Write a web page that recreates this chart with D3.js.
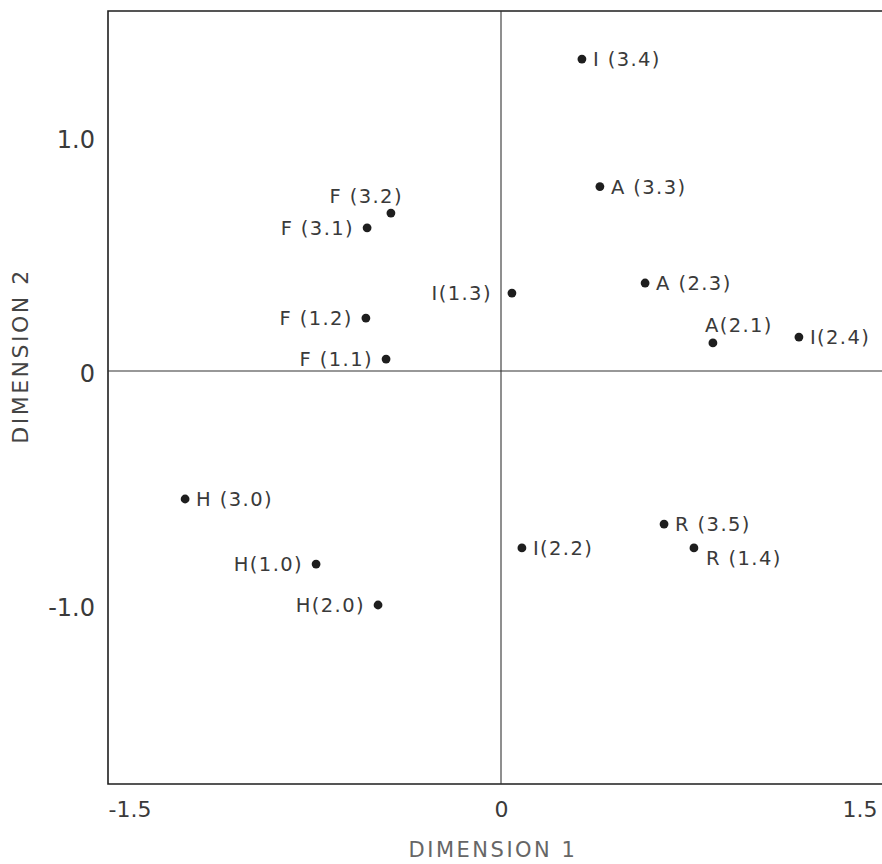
<!DOCTYPE html>
<html>
<head>
<meta charset="utf-8">
<script src="https://cdn.jsdelivr.net/npm/d3@7"></script>
<style>
  html, body { margin: 0; padding: 0; background: #fff; }
  svg { display: block; }
  text { font-family: "DejaVu Sans", "Liberation Sans", sans-serif; font-weight: 400; }
</style>
</head>
<body>
<svg id="chart" width="882" height="864"></svg>
<script>
// ---- data ----
const labels = ["I (3.4)", "A (3.3)", "F (3.2)", "F (3.1)", "I(1.3)", "A (2.3)", "F (1.2)", "F (1.1)",
                "A(2.1)", "I(2.4)", "H (3.0)", "H(1.0)", "H(2.0)", "I(2.2)", "R (3.5)", "R (1.4)"];
const dim1 = [0.333, 0.407, -0.453, -0.551, 0.045, 0.593, -0.556, -0.473,
              0.872, 1.226, -1.300, -0.761, -0.506, 0.086, 0.671, 0.794];
const dim2 = [1.333, 0.788, 0.675, 0.612, 0.333, 0.376, 0.226, 0.051,
              0.120, 0.145, -0.547, -0.825, -1.000, -0.756, -0.654, -0.756];
// where each label sits relative to its point
const labelSide = ["right", "right", "aboveLeft", "left", "leftFar", "right", "left", "left",
                   "above", "right", "right", "left", "left", "right", "right", "belowRight"];
const xTicks = [-1.5, 0, 1.5];
const yTicks = [1.0, 0, -1.0];
const xTickText = ["-1.5", "0", "1.5"];
const yTickText = ["1.0", "0", "-1.0"];
const xTitle = "DIMENSION 1";
const yTitle = "DIMENSION 2";

// ---- layout ----
const svg = d3.select("#chart");
const frame = { left: 108, top: 11, bottom: 784, right: 882 };
const x = d3.scaleLinear().domain([-1.5, 1.5]).range([501 - 1.5 * 243, 501 + 1.5 * 243]);
const y = d3.scaleLinear().domain([-1, 1]).range([371 + 234, 371 - 234]);
const ink = "#1e1e1e";

// frame (right side runs off the page)
svg.append("path")
  .attr("d", `M${frame.right + 20},${frame.top} H${frame.left} V${frame.bottom} H${frame.right + 20}`)
  .attr("fill", "none").attr("stroke", ink).attr("stroke-width", 1.6);

// zero lines
svg.append("line")
  .attr("x1", x(0)).attr("x2", x(0)).attr("y1", frame.top).attr("y2", frame.bottom)
  .attr("stroke", "#333").attr("stroke-width", 1.1);
svg.append("line")
  .attr("x1", frame.left).attr("x2", frame.right).attr("y1", y(0)).attr("y2", y(0))
  .attr("stroke", "#333").attr("stroke-width", 1.1);

// axes (labels only)
const xAxis = d3.axisBottom(x).tickValues(xTicks).tickSize(0)
  .tickFormat((d, i) => xTickText[i]);
const gx = svg.append("g").attr("transform", `translate(0,${frame.bottom + 14})`).call(xAxis);
gx.select(".domain").remove();
gx.selectAll("text").attr("font-size", 22).attr("fill", "#3a3a3a")
  .attr("font-family", "DejaVu Sans, sans-serif").attr("font-weight", 300)
  .attr("dx", (d) => d < 0 ? -7 : (d > 0 ? -6 : 0));

const yAxis = d3.axisLeft(y).tickValues(yTicks).tickSize(0)
  .tickFormat((d, i) => yTickText[i]);
const gy = svg.append("g").attr("transform", `translate(${frame.left - 10},3)`).call(yAxis);
gy.select(".domain").remove();
gy.selectAll("text").attr("font-size", 24).attr("fill", "#3a3a3a")
  .attr("font-family", "DejaVu Sans, sans-serif").attr("font-weight", 300);

// axis titles
svg.append("text")
  .attr("x", 493).attr("y", 857)
  .attr("text-anchor", "middle").attr("font-size", 21).attr("letter-spacing", 2.5)
  .attr("font-weight", 300).attr("fill", "#666").text(xTitle);
svg.append("text")
  .attr("transform", `translate(28,356) rotate(-90)`)
  .attr("text-anchor", "middle").attr("font-size", 22).attr("letter-spacing", 2.5)
  .attr("font-weight", 300).attr("fill", "#444").text(yTitle);

// points
const pts = labels.map((l, i) => ({ label: l, d1: dim1[i], d2: dim2[i], side: labelSide[i] }));
svg.append("g").selectAll("circle").data(pts).join("circle")
  .attr("cx", d => x(d.d1)).attr("cy", d => y(d.d2)).attr("r", 4.4)
  .attr("fill", ink);

// labels
const off = {
  right:      { dx: 11,  dy: 7,   anchor: "start" },
  left:       { dx: -13, dy: 7,   anchor: "end" },
  leftFar:    { dx: -20, dy: 7,   anchor: "end" },
  aboveLeft:  { dx: 12,  dy: -10, anchor: "end" },
  above:      { dx: -8,  dy: -11, anchor: "start" },
  belowRight: { dx: 12,  dy: 17,  anchor: "start" }
};
svg.append("g").selectAll("text").data(pts).join("text")
  .attr("x", d => x(d.d1) + off[d.side].dx)
  .attr("y", d => y(d.d2) + off[d.side].dy)
  .attr("text-anchor", d => off[d.side].anchor)
  .attr("font-size", 19.5).attr("letter-spacing", 1.4)
  .attr("fill", "#3a3a3a")
  .text(d => d.label);
</script>
</body>
</html>
